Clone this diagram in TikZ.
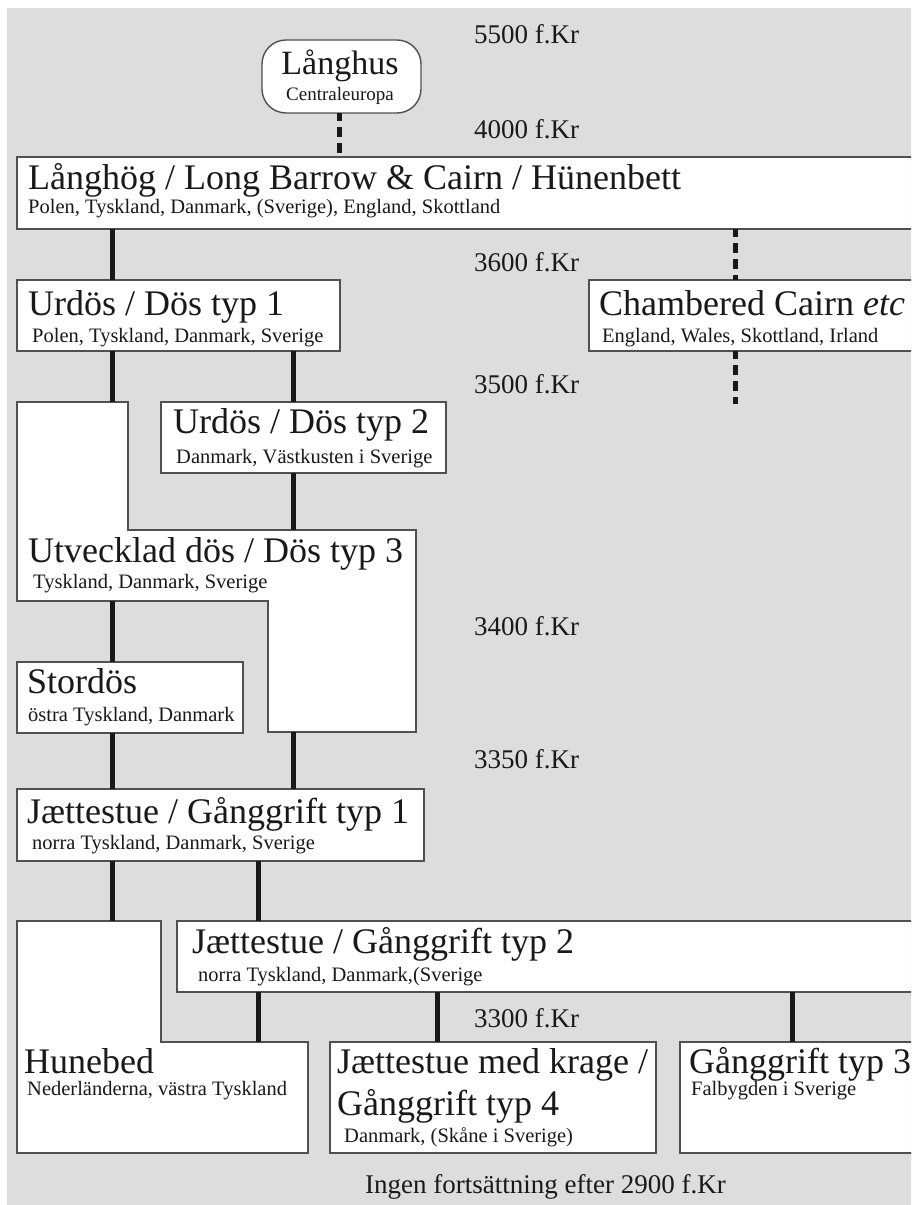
\documentclass[tikz,border=0pt]{standalone}
\usepackage{fontspec}
\setmainfont{Liberation Serif}
\definecolor{bg}{RGB}{221,221,221}
\definecolor{bordergray}{RGB}{80,80,80}
\definecolor{txt}{RGB}{25,25,25}
\begin{document}
\begin{tikzpicture}[x=1pt,y=-1pt,
  box/.style={draw=bordergray, line width=1.4pt, fill=white, inner sep=0pt, outer sep=0pt, anchor=north west},
  lbox/.style={draw=bordergray, line width=1.4pt, fill=white},
  big/.style={anchor=base west, inner sep=0pt, font=\fontsize{36}{36}\selectfont, text=txt},
  small/.style={anchor=base west, inner sep=0pt, font=\fontsize{20.5}{21}\selectfont, text=txt},
  datelbl/.style={anchor=base west, inner sep=0pt, font=\fontsize{27}{27}\selectfont, text=txt},
  conn/.style={line width=5pt, draw=black!90},
  dconn/.style={line width=5pt, draw=black!90, dash pattern=on 10pt off 6pt, dash phase=2pt}]

\useasboundingbox (0,0) rectangle (911,1205);
\clip (0,0) rectangle (911,1205);
\fill[white] (0,0) rectangle (911,1205);
\fill[bg] (7,8) rectangle (915,1210);

% guide coordinates for connector x positions
\coordinate (xa) at (112,0);
\coordinate (xb) at (293,0);
\coordinate (xc) at (258,0);
\coordinate (xd) at (437,0);
\coordinate (xe) at (792,0);
\coordinate (xf) at (735,0);

% boxes
\node[box, rounded corners=24pt, minimum width=159pt, minimum height=73pt] (lh) at (262,40) {};
\node[box, minimum width=910pt, minimum height=72pt] (lg) at (17,157) {};
\node[box, minimum width=323pt, minimum height=71pt] (u1) at (17,280) {};
\node[box, minimum width=340pt, minimum height=71pt] (cc) at (589,280) {};
\node[box, minimum width=285pt, minimum height=71pt] (u2) at (161,402) {};
\draw[lbox] (17,402) -- (128,402) -- (128,530) -- (416,530) -- (416,732) -- (268,732) -- (268,601) -- (17,601) -- cycle;
\coordinate (ut1) at (112,402);
\coordinate (ut2) at (293,530);
\coordinate (ut3) at (112,601);
\coordinate (ut4) at (293,732);
\node[box, minimum width=226pt, minimum height=71pt] (sd) at (17,662) {};
\node[box, minimum width=407pt, minimum height=72pt] (j1) at (17,789) {};
\draw[lbox] (17,921) -- (161,921) -- (161,1042) -- (308,1042) -- (308,1153) -- (17,1153) -- cycle;
\coordinate (hb1) at (112,921);
\coordinate (hb2) at (258,1042);
\node[box, minimum width=750pt, minimum height=71pt] (j2) at (177,921) {};
\node[box, minimum width=326pt, minimum height=111pt] (jk) at (330,1042) {};
\node[box, minimum width=250pt, minimum height=111pt] (g3) at (680,1042) {};
\coordinate (ccend) at (735,404);

% connectors
\draw[dconn] (lh.south -| 339,0) -- (lg.north -| 339,0);
\draw[conn] (lg.south -| xa) -- (u1.north -| xa);
\draw[dconn] (lg.south -| xf) -- (cc.north -| xf);
\draw[dconn] (cc.south -| xf) -- (ccend);
\draw[conn] (u1.south -| xa) -- (ut1);
\draw[conn] (u1.south -| xb) -- (u2.north -| xb);
\draw[conn] (u2.south -| xb) -- (ut2);
\draw[conn] (ut3) -- (sd.north -| xa);
\draw[conn] (ut4) -- (j1.north -| xb);
\draw[conn] (sd.south -| xa) -- (j1.north -| xa);
\draw[conn] (j1.south -| xa) -- (hb1);
\draw[conn] (j1.south -| xc) -- (j2.north -| xc);
\draw[conn] (j2.south -| xc) -- (hb2);
\draw[conn] (j2.south -| xd) -- (jk.north -| xd);
\draw[conn] (j2.south -| xe) -- (g3.north -| xe);

% texts
\node[anchor=base, inner sep=0pt, font=\fontsize{34}{34}\selectfont, text=txt] (t-lh) at (340,74) {Långhus};
\node[anchor=base, inner sep=0pt, font=\fontsize{19}{19}\selectfont, text=txt] (s-lh) at (340,100) {Centraleuropa};

\node[big] (t-lg) at (28,189) {Långhög / Long Barrow \& Cairn / Hünenbett};
\node[small] (s-lg) at (28,213) {Polen, Tyskland, Danmark, (Sverige), England, Skottland};

\node[big] (t-u1) at (28,315) {Urdös / Dös typ 1};
\node[small] (s-u1) at (32,342) {Polen, Tyskland, Danmark, Sverige};

\node[big] (t-cc) at (599,315) {Chambered Cairn \textit{etc}};
\node[small] (s-cc) at (602,342) {England, Wales, Skottland, Irland};

\node[big] (t-u2) at (173,433) {Urdös / Dös typ 2};
\node[small] (s-u2) at (176,463) {Danmark, Västkusten i Sverige};

\node[big] (t-ut) at (28,562) {Utvecklad dös / Dös typ 3};
\node[small] (s-ut) at (33,588) {Tyskland, Danmark, Sverige};

\node[big] (t-sd) at (27,693) {Stordös};
\node[small] (s-sd) at (28,721) {östra Tyskland, Danmark};

\node[big] (t-j1) at (27,823) {Jættestue / Gånggrift typ 1};
\node[small] (s-j1) at (32,849) {norra Tyskland, Danmark, Sverige};

\node[big] (t-j2) at (192,953) {Jættestue / Gånggrift typ 2};
\node[small] (s-j2) at (198,981) {norra Tyskland, Danmark,(Sverige};

\node[big] (t-hb) at (24,1073) {Hunebed};
\node[small] (s-hb) at (27,1095) {Nederländerna, västra Tyskland};

\node[big] (t-jk) at (337,1073) {Jættestue med krage /};
\node[big] (t-jk2) at (337,1115) {Gånggrift typ 4};
\node[small] (s-jk) at (344,1142) {Danmark, (Skåne i Sverige)};

\node[big] (t-g3) at (689,1073) {Gånggrift typ 3};
\node[small] (s-g3) at (691,1095) {Falbygden i Sverige};

% dates
\node[datelbl] (d1) at (474,43) {5500 f.Kr};
\node[datelbl] (d2) at (474,138) {4000 f.Kr};
\node[datelbl] (d3) at (474,271) {3600 f.Kr};
\node[datelbl] (d4) at (474,393) {3500 f.Kr};
\node[datelbl] (d5) at (474,635) {3400 f.Kr};
\node[datelbl] (d6) at (474,768) {3350 f.Kr};
\node[datelbl] (d7) at (474,1027) {3300 f.Kr};
\node[datelbl] (d8) at (365,1193) {Ingen fortsättning efter 2900 f.Kr};
\end{tikzpicture}
\end{document}
